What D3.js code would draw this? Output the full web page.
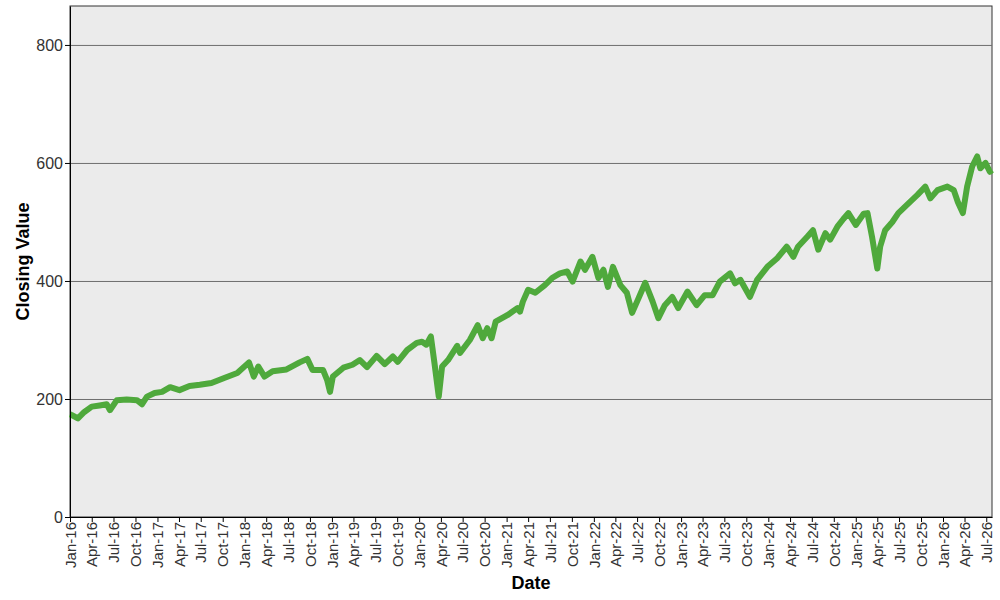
<!DOCTYPE html>
<html>
<head>
<meta charset="utf-8">
<script src="https://cdn.jsdelivr.net/npm/d3@7"></script>
<style>
body { margin: 0; background: #fff; }
svg { display: block; font-family: "Liberation Sans", Arial, sans-serif; }
.axis text { fill: #333; }
.axis path, .axis line { stroke: #000; }
.grid line { stroke: #6e6e6e; }
.title { font-weight: bold; fill: #000; }
</style>
</head>
<body>
<svg width="1000" height="600"></svg>
<script>
// closing values
var dates = ["2016-01-01","2016-01-07","2016-02-03","2016-03-01","2016-04-01","2016-05-04","2016-06-03","2016-06-16","2016-07-15","2016-08-25","2016-10-07","2016-10-28","2016-11-18","2016-12-20",
"2017-01-20","2017-02-23","2017-04-03","2017-05-15","2017-06-27","2017-08-15","2017-10-10","2017-12-01",
"2018-01-19","2018-02-08","2018-02-27","2018-03-25","2018-04-28","2018-06-25","2018-08-19","2018-09-20","2018-10-12","2018-11-25","2018-12-12","2018-12-24",
"2019-01-05","2019-02-18","2019-03-28","2019-04-28","2019-05-28","2019-07-07","2019-08-10","2019-09-13","2019-10-03","2019-11-12","2019-12-22",
"2020-01-13","2020-01-31","2020-02-19","2020-03-05","2020-03-23","2020-04-06","2020-05-01","2020-06-08","2020-06-20","2020-07-31","2020-09-02","2020-09-23","2020-10-12","2020-10-30","2020-11-16",
"2021-01-04","2021-02-15","2021-02-26","2021-03-10","2021-04-01","2021-05-01","2021-06-10","2021-07-10","2021-08-12","2021-09-12","2021-10-04","2021-11-06","2021-11-25","2021-12-26",
"2022-01-20","2022-02-10","2022-03-01","2022-03-22","2022-04-22","2022-05-19","2022-06-10","2022-07-04","2022-08-04","2022-09-04","2022-09-28","2022-10-25","2022-11-25","2022-12-20",
"2023-01-28","2023-03-07","2023-04-10","2023-05-13","2023-06-12","2023-07-25","2023-08-15","2023-09-06","2023-10-16","2023-11-15","2023-12-28",
"2024-02-06","2024-03-18","2024-04-15","2024-05-04","2024-06-12","2024-07-06","2024-07-28","2024-08-27","2024-09-16","2024-10-16","2024-11-10","2024-12-01",
"2025-01-01","2025-02-03","2025-02-19","2025-03-10","2025-04-01","2025-04-13","2025-05-04","2025-06-03","2025-06-28","2025-08-03","2025-09-16","2025-10-19","2025-11-09","2025-12-09",
"2026-01-19","2026-02-15","2026-03-04","2026-03-25","2026-04-12","2026-05-03","2026-05-24","2026-06-06","2026-06-28","2026-07-16","2026-07-25"];

var closes = [174,173,167,178,187,189,191,181,198,199,198,191,204,210,
212,220,215,222,224,227,236,244,
262,238,255,238,247,250,262,268,249,249,232,212,
238,253,258,266,254,273,259,272,263,283,295,
297,292,306,261,204,255,266,290,278,300,325,303,320,303,331,
342,354,348,365,385,380,393,405,413,416,399,433,419,441,
405,419,390,424,393,380,346,368,397,365,337,359,373,354,
382,359,376,376,399,413,396,402,373,402,424,
438,458,441,458,475,486,453,481,470,492,505,515,
495,514,515,475,421,458,486,500,515,529,546,560,540,554,
560,554,534,515,560,594,611,591,600,585,588];

var yTicks = [0, 200, 400, 600, 800];

var svg = d3.select("svg");
var margin = {"top":6,"right":8,"bottom":83,"left":70};
var width = +svg.attr("width") - margin.left - margin.right;
var height = +svg.attr("height") - margin.top - margin.bottom;

var parseDate = d3.timeParse("%Y-%m-%d");
var data = dates.map(function(d, i){ return {date: parseDate(d), close: closes[i]}; });

var x = d3.scaleTime().domain(d3.extent(data, function(d){ return d.date; })).range([0, width]);
var y = d3.scaleLinear().domain([0, 866]).range([height, 0]);

var g = svg.append("g").attr("transform","translate("+margin.left+","+margin.top+")");

g.append("rect")
    .attr("width", width)
    .attr("height", height)
    .attr("fill", "#ebebeb")
    .attr("stroke", "#333")
    .attr("stroke-width", 1);

g.append("g")
    .attr("class","grid")
    .selectAll("line")
    .data(yTicks.filter(function(v){ return v > 0; }))
    .enter().append("line")
    .attr("x1", 0).attr("x2", width)
    .attr("y1", function(d){ return y(d) + 0.5; })
    .attr("y2", function(d){ return y(d) + 0.5; });

var line = d3.line()
    .x(function(d){ return x(d.date); })
    .y(function(d){ return y(d.close); });

g.append("path")
    .datum(data)
    .attr("fill", "none")
    .attr("stroke", "#4fa93c")
    .attr("stroke-width", 6)
    .attr("stroke-linejoin", "round")
    .attr("d", line);

var xAxis = g.append("g")
    .attr("class","axis")
    .attr("transform","translate(0,"+height+")")
    .call(d3.axisBottom(x).ticks(d3.timeMonth.every(3)).tickFormat(d3.timeFormat("%b-%y")).tickSize(5).tickSizeOuter(0));
xAxis.selectAll("text")
    .style("font-size", "15px")
    .attr("text-anchor", "end")
    .attr("transform", "rotate(-90)")
    .attr("x", -5)
    .attr("y", 0)
    .attr("dy", "0.35em");

var yAxis = g.append("g")
    .attr("class","axis")
    .call(d3.axisLeft(y).tickValues(yTicks).tickSize(5).tickSizeOuter(0));
yAxis.selectAll("text").style("font-size", "16px").attr("x", -7);
svg.selectAll(".axis .domain").attr("stroke", "#000");

svg.append("text")
    .attr("class","title")
    .attr("text-anchor","middle")
    .attr("x", margin.left + width / 2)
    .attr("y", 589)
    .style("font-size","18px")
    .text("Date");

svg.append("text")
    .attr("class","title")
    .attr("text-anchor","middle")
    .attr("transform","translate(29,"+(margin.top + height / 2)+") rotate(-90)")
    .style("font-size","18px")
    .text("Closing Value");
</script>
</body>
</html>
